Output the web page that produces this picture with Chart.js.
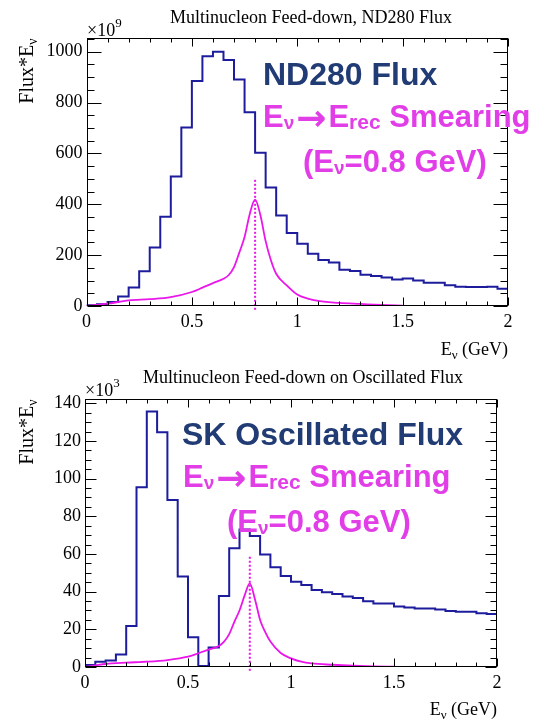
<!DOCTYPE html>
<html><head><meta charset="utf-8">
<script src="https://cdn.jsdelivr.net/npm/chart.js@4.4.1/dist/chart.umd.min.js"></script>
<style>
html,body{margin:0;padding:0;background:#fff;}
#wrap{position:relative;width:537px;height:720px;overflow:hidden;}
canvas{position:absolute;left:0;}
</style></head><body>
<div id="wrap">
<canvas id="cTop" width="537" height="360" style="top:0"></canvas>
<canvas id="cBot" width="537" height="360" style="top:360px"></canvas>
</div>
<script>
// ---------- DATA ----------
const binEdges = [0.00,0.05,0.10,0.15,0.20,0.25,0.30,0.35,0.40,0.45,0.50,0.55,0.60,0.65,0.70,0.75,0.80,0.85,0.90,0.95,
                  1.00,1.05,1.10,1.15,1.20,1.25,1.30,1.35,1.40,1.45,1.50,1.55,1.60,1.65,1.70,1.75,1.80,1.85,1.90,1.95,2.00];
// ND280 flux * E (x10^9)
const nd280Flux = [3,7,16,37,73,137,230,351,509,702,885,982,1000,967,891,762,603,466,356,287,
                   245,205,181,171,143,138,123,118,112,104,108,100,91,91,82,76,75,75,76,68];
// SK oscillated flux * E (x10^3)
const skFlux = [1,2.8,3.5,6.7,21.8,95.4,135.6,124.6,88.7,48,15.8,0.5,10.4,37.7,63,73,69.6,59.8,53,48.3,
                45.3,43.6,40.9,39.7,38.8,37.4,36.7,34.9,33.7,33.7,32.1,31.6,31,31,30.5,29.8,29.3,29.3,28.6,28.2];
// Smearing curves (E_nu = 0.8 GeV)
const smearX = [0,0.05,0.1,0.2,0.3,0.4,0.5,0.55,0.6,0.65,0.675,0.7,0.725,0.75,0.775,0.8,0.825,0.85,0.875,0.9,0.95,1.0,1.05,1.1,1.2,1.3,1.4,1.5];
const smearND = [0,4,9,22,27,35,55,72,90,107,122,153,210,271,363,418,358,255,180,127,81,45,29,20,12,8,4,1];
const smearSK = [0,0.8,1.6,2.3,2.8,3.7,5.5,7.3,9.2,11.2,13.5,17.5,24,30,38,44.4,36,25,18.5,13.5,7.4,4.6,2.8,1.9,1.2,0.7,0.35,0.2];
const peakE = 0.8;
const dotTopND = 500, dotTopSK = 59;
const xTicks = [0,0.5,1,1.5,2];
const yTicksND = [0,200,400,600,800,1000];
const yTicksSK = [0,20,40,60,80,100,120,140];

// ---------- STYLE ----------
const SERIF = "'Liberation Serif','Times New Roman',serif";
const SANS = "'Liberation Sans',Arial,sans-serif";
const BLUE = '#1c1c9c';
const MAG = '#ea16ea';
const NAVY = '#213b74';
const MAGTXT = '#e23ee8';

function histPoints(edges, vals){
  const pts = vals.map((v,i)=>({x:edges[i], y:v}));
  pts.push({x:edges[vals.length], y:vals[vals.length-1]});
  return pts;
}
function curvePoints(xs, ys){ return xs.map((x,i)=>({x, y:ys[i]})); }

function richText(ctx, x, y, parts, color, family, weight){
  ctx.fillStyle = color; ctx.textBaseline = 'alphabetic'; ctx.textAlign = 'left';
  for (const p of parts){
    ctx.font = `${p.w!==undefined?p.w:weight} ${p.s}px ${p.f||family}`;
    x += (p.before||0);
    ctx.fillText(p.t, x + (p.dx||0), y + (p.dy||0));
    x += ctx.measureText(p.t).width + (p.dx||0) + (p.after||0);
  }
  return x;
}
function richWidth(ctx, parts, family, weight){
  let w = 0;
  for (const p of parts){ ctx.font = `${p.w!==undefined?p.w:weight} ${p.s}px ${p.f||family}`; w += (p.before||0) + ctx.measureText(p.t).width + (p.dx||0) + (p.after||0); }
  return w;
}

function makeChart(id, cfg){
  const framePlugin = {
    id: 'frame'+id,
    afterDraw(chart){
      const ctx = chart.ctx, a = chart.chartArea;
      const xs = chart.scales.x, ys = chart.scales.y;
      ctx.save();
      ctx.strokeStyle = '#000'; ctx.lineWidth = 1;
      const L = Math.round(a.left)+0.5, R = Math.round(a.right)-0.5, T = Math.round(a.top)+0.5, B = Math.round(a.bottom)-0.5;
      ctx.strokeRect(L, T, R-L, B-T);
      ctx.beginPath();
      for (let i=0;i<=20;i++){
        const v = i*0.1; const px = Math.round(xs.getPixelForValue(v))+0.5;
        const len = (i%5===0) ? 8 : 4;
        ctx.moveTo(px, B); ctx.lineTo(px, B-len);
        ctx.moveTo(px, T); ctx.lineTo(px, T+len);
      }
      for (let v=0; v<=ys.max+1e-9; v+=cfg.yMinor){
        const py = Math.round(ys.getPixelForValue(v))+0.5;
        const major = Math.abs(v/cfg.yMajor - Math.round(v/cfg.yMajor))<1e-6;
        const len = major ? cfg.yTickMaj : cfg.yTickMin;
        ctx.moveTo(L, py); ctx.lineTo(L+len, py);
        ctx.moveTo(R, py); ctx.lineTo(R-len, py);
      }
      ctx.stroke();

      // title
      ctx.fillStyle = '#000'; ctx.textBaseline='alphabetic'; ctx.textAlign='left';
      ctx.font = `18px ${SERIF}`;
      ctx.fillText(cfg.title, cfg.titleX, 23);
      // exponent
      richText(ctx, L-0.5, 36, [{t:'\u00d710', s:18},{t:cfg.exp, s:13, dy:-9}], '#000', SERIF, '');
      // y title rotated
      const yparts = [{t:'Flux*E', s:20},{t:'\u03bd', s:14, dy:4}];
      const yw = richWidth(ctx, yparts, SERIF, '');
      ctx.save();
      ctx.translate(33, T + yw);
      ctx.rotate(-Math.PI/2);
      richText(ctx, 0, 0, yparts, '#000', SERIF, '');
      ctx.restore();
      // x title
      const xparts = [{t:'E', s:18},{t:'\u03bd', s:13, dy:4},{t:' (GeV)', s:18}];
      const xw = richWidth(ctx, xparts, SERIF, '');
      richText(ctx, R+0.5-xw, 355, xparts, '#000', SERIF, '');

      // annotations
      richText(ctx, cfg.ann1X, 85, [{t:cfg.ann1, s:32}], NAVY, SANS, 'bold');
      richText(ctx, cfg.ann2X, 127, [
        {t:'E', s:31},{t:'\u03bd', s:19, dy:2},
        {t:'\u2192', s:36, dy:3, w:'bold', f:"'DejaVu Sans',sans-serif", before:2, after:2},
        {t:'E', s:31},{t:'rec', s:21, dy:2},{t:' Smearing', s:31}
      ], MAGTXT, SANS, 'bold');
      richText(ctx, cfg.ann3X, 172, [
        {t:'(E', s:31},{t:'\u03bd', s:19, dy:2},{t:'=0.8 GeV)', s:31}
      ], MAGTXT, SANS, 'bold');
      ctx.restore();
    }
  };
  return new Chart(document.getElementById(id), {
    type: 'line',
    data: { datasets: [
      { data: [{x:peakE, y:cfg.dotLow},{x:peakE, y:cfg.dotTop}], borderColor: MAG, borderWidth: 2, borderDash:[2,2], pointRadius:0, clip:false, fill:false },
      { data: curvePoints(smearX, cfg.smear), borderColor: MAG, borderWidth: 1.8, pointRadius:0, cubicInterpolationMode:'monotone', fill:false },
      { data: histPoints(binEdges, cfg.hist), borderColor: BLUE, borderWidth: 2, pointRadius:0, stepped:'before', fill:false }
    ]},
    options: {
      responsive:false, animation:false, devicePixelRatio:1,
      layout:{ padding:{ left:0, right:cfg.padRight, top:cfg.padTop, bottom:0 } },
      plugins:{ legend:{display:false}, tooltip:{enabled:false}, title:{display:false} },
      scales:{
        x:{ type:'linear', min:0, max:2,
            grid:{display:false, drawTicks:false}, border:{display:false},
            ticks:{ font:{family:SERIF, size:18}, color:'#000', padding:5, maxRotation:0, autoSkip:false, callback:v=>String(v) },
            afterBuildTicks(s){ s.ticks = xTicks.map(v=>({value:v})); },
            afterFit(s){ s.height = cfg.xH; } },
        y:{ type:'linear', min:0, max:cfg.yMax,
            grid:{display:false, drawTicks:false}, border:{display:false},
            ticks:{ font:{family:SERIF, size:18}, color:'#000', padding:4, autoSkip:false, callback:v=>String(v) },
            afterBuildTicks(s){ s.ticks = cfg.yTicks.map(v=>({value:v})); },
            afterFit(s){ s.width = cfg.yW; } }
      }
    },
    plugins:[framePlugin]
  });
}

makeChart('cTop', {
  hist: nd280Flux, smear: smearND, dotLow: -15, dotTop: dotTopND,
  yMax: 1054, yTicks: yTicksND, yMajor: 200, yMinor: 50, yTickMaj: 14, yTickMin: 7,
  padRight: 29, padTop: 38, xH: 54, yW: 86.5,
  title: 'Multinucleon Feed-down, ND280 Flux', titleX: 170, exp: '9',
  ann1: 'ND280 Flux', ann1X: 263, ann2X: 263, ann3X: 303
});
makeChart('cBot', {
  hist: skFlux, smear: smearSK, dotLow: -2, dotTop: dotTopSK,
  yMax: 142.3, yTicks: yTicksSK, yMajor: 20, yMinor: 5, yTickMaj: 11, yTickMin: 6,
  padRight: 40, padTop: 39, xH: 53, yW: 85,
  title: 'Multinucleon Feed-down on Oscillated Flux', titleX: 143, exp: '3',
  ann1: 'SK Oscillated Flux', ann1X: 182, ann2X: 183, ann3X: 227
});
</script>
</body></html>
